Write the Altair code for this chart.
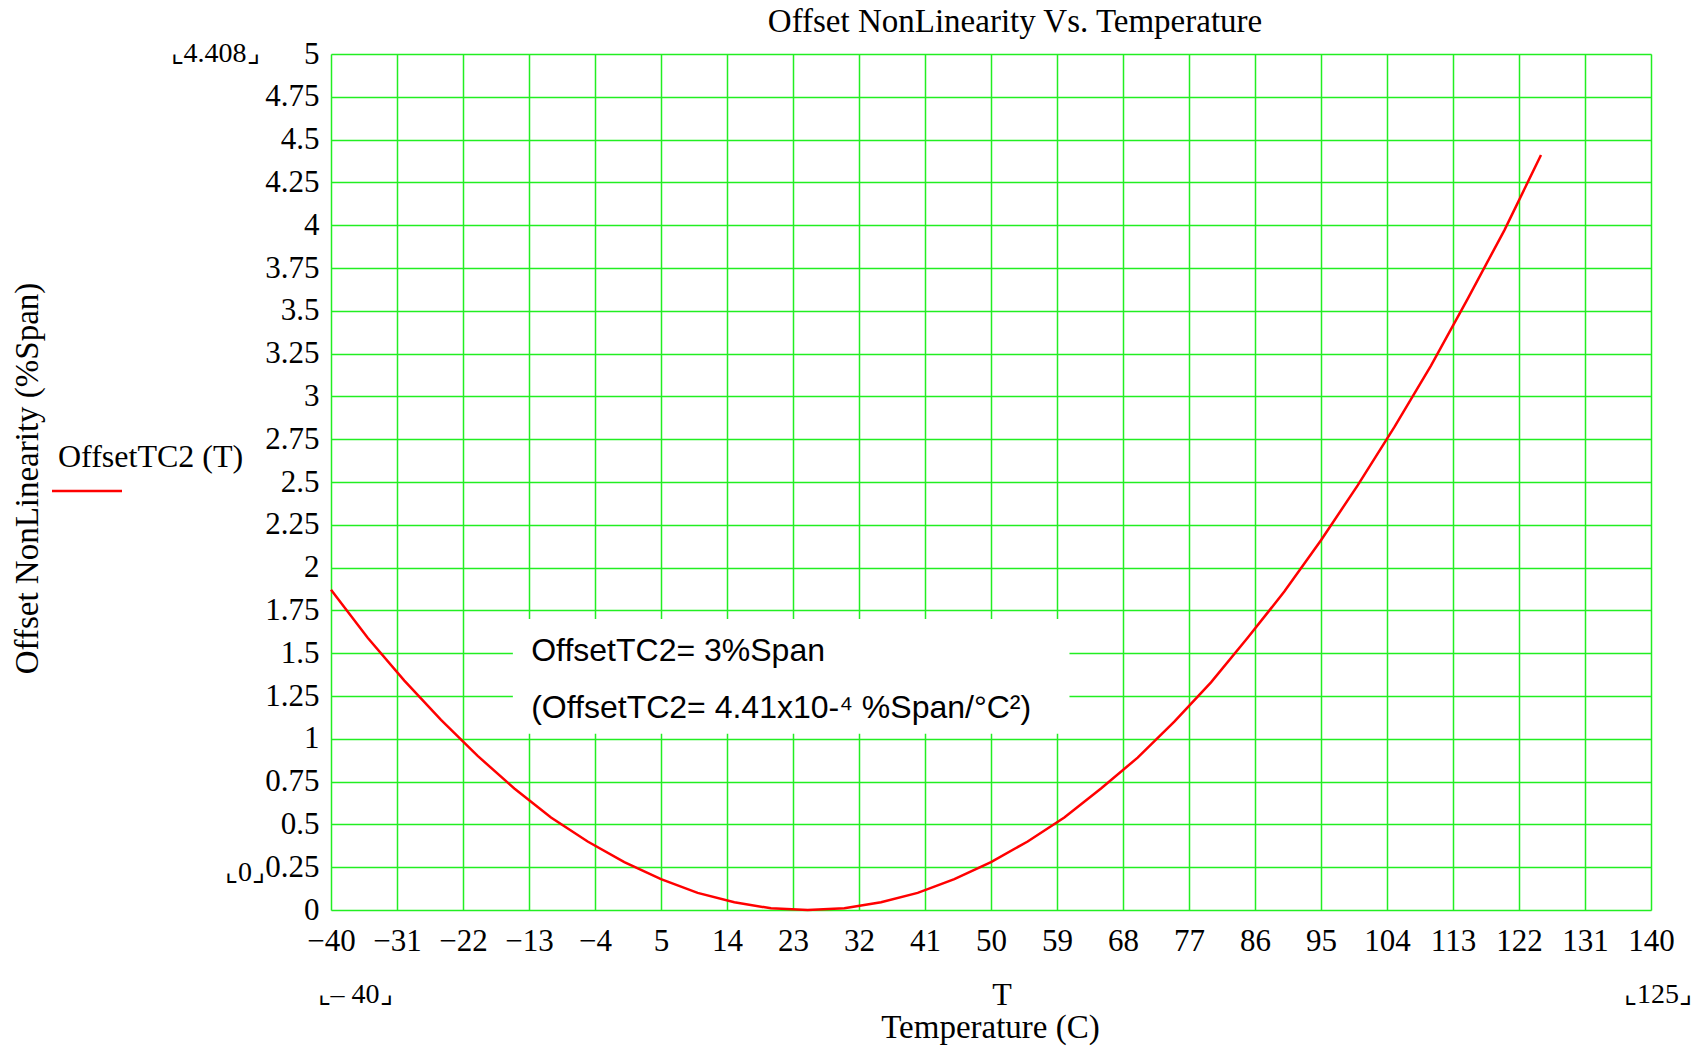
import altair as alt
import pandas as pd

# ---- data ----
temps = [-40, -35, -30, -25, -20, -15, -10, -5, 0, 5, 10, 15, 20, 25, 30, 35, 40,
         45, 50, 55, 60, 65, 70, 75, 80, 85, 90, 95, 100, 105, 110, 115, 120, 125]
offset_nl = [1.87, 1.59, 1.34, 1.11, 0.90, 0.71, 0.54, 0.40, 0.28, 0.18, 0.10, 0.045,
             0.01, 0.0, 0.01, 0.045, 0.10, 0.18, 0.28, 0.40, 0.54, 0.71, 0.89, 1.10,
             1.33, 1.59, 1.86, 2.16, 2.48, 2.82, 3.18, 3.57, 3.97, 4.41]
x_ticks = [-40, -31, -22, -13, -4, 5, 14, 23, 32, 41, 50, 59, 68, 77, 86, 95, 104,
           113, 122, 131, 140]
y_ticks = [0, 0.25, 0.5, 0.75, 1, 1.25, 1.5, 1.75, 2, 2.25, 2.5, 2.75, 3, 3.25, 3.5,
           3.75, 4, 4.25, 4.5, 4.75, 5]
box_x = [-15.2, 60.7]
box_y = [1.03, 1.70]
note_lines = ["OffsetTC2= 3%Span", "(OffsetTC2= 4.41x10-\u2074 %Span/\u00b0C\u00b2)"]
note_x = [-12.7, -12.7]
note_y = [1.51, 1.18]

W, H = 1320, 856
SERIF = "Liberation Serif"
SANS = "Liberation Sans"
GRID = "#22ee22"
LBL = 31

df = pd.DataFrame({"T": temps, "v": offset_nl})

xs = alt.Scale(domain=[-40, 140], nice=False, zero=False)
ys = alt.Scale(domain=[0, 5], nice=False, zero=False)

x_axis = alt.Axis(values=x_ticks, grid=True, gridColor=GRID, gridWidth=1.5,
                  gridOpacity=1, ticks=False, domain=False,
                  labelExpr="datum.value < 0 ? '\u2212' + abs(datum.value) : '' + datum.value",
                  labelFont=SERIF, labelFontSize=LBL, labelColor="black",
                  labelPadding=16, labelFlush=False, labelOverlap=False,
                  title="Temperature (C)", titleFont=SERIF, titleFontSize=33,
                  titleFontWeight="normal", titleColor="black",
                  titleX=659, titleY=117, titleBaseline="middle", titleAlign="center")
y_axis = alt.Axis(values=y_ticks, grid=True, gridColor=GRID, gridWidth=1.5,
                  gridOpacity=1, ticks=False, domain=False,
                  labelExpr="'' + datum.value",
                  labelFont=SERIF, labelFontSize=LBL, labelColor="black",
                  labelPadding=12, labelFlush=False, labelOverlap=False,
                  title="Offset NonLinearity (%Span)", titleFont=SERIF,
                  titleFontSize=33, titleFontWeight="normal", titleColor="black",
                  titleX=-304, titleY=424, titleAngle=270,
                  titleBaseline="middle", titleAlign="center")

base = alt.Chart(df)

curve = base.mark_line(color="#ff0000", strokeWidth=2.5).encode(
    x=alt.X("T:Q", scale=xs, axis=x_axis),
    y=alt.Y("v:Q", scale=ys, axis=y_axis),
)

box_df = pd.DataFrame({"x1": [box_x[0]], "x2": [box_x[1]],
                       "y1": [box_y[0]], "y2": [box_y[1]]})
box = alt.Chart(box_df).mark_rect(color="white").encode(
    x=alt.X("x1:Q", scale=xs), x2="x2:Q",
    y=alt.Y("y1:Q", scale=ys), y2="y2:Q",
)

note_df = pd.DataFrame({"text": note_lines, "x": note_x, "y": note_y})
notes = alt.Chart(note_df).mark_text(
    font=SANS, fontSize=32, align="left", baseline="middle", color="black"
).encode(
    x=alt.X("x:Q", scale=xs), y=alt.Y("y:Q", scale=ys), text="text:N"
)

one = pd.DataFrame({"a": [0]})


def label(txt, px, py, size=29, align="center", font=SERIF, angle=0):
    return alt.Chart(one).mark_text(
        font=font, fontSize=size, align=align, baseline="middle",
        color="black", angle=angle
    ).encode(x=alt.value(px), y=alt.value(py), text=alt.value(txt))


legend_text = label("OffsetTC2 (T)", -273, 403, size=32, align="left")
legend_line = alt.Chart(one).mark_rule(color="#ff0000", strokeWidth=2.5).encode(
    x=alt.value(-279), x2=alt.value(-209), y=alt.value(437)
)

extras = [
    label("\u231e4.408\u231f", -116, 0, size=28),
    label("\u231e0\u231f", -86, 819, size=28),
    label("\u231e\u2013 40\u231f", 24, 941, size=28),
    label("\u231e125\u231f", 1327, 941, size=28),
    label("T", 671, 941, size=32),
]

chart = alt.layer(box, curve, notes, legend_text, legend_line, *extras).properties(
    width=W, height=H,
    title=alt.TitleParams("Offset NonLinearity Vs. Temperature", font=SERIF,
                          fontSize=33, fontWeight="normal", color="black",
                          anchor="middle", dx=24, offset=-1),
    autosize=alt.AutoSizeParams(type="none"),
    padding={"left": 331, "top": 54, "right": 51, "bottom": 137},
).configure_view(stroke="black", strokeWidth=3).configure(background="white")

chart.save("out.html", embed_options={"renderer": "svg", "actions": False})
